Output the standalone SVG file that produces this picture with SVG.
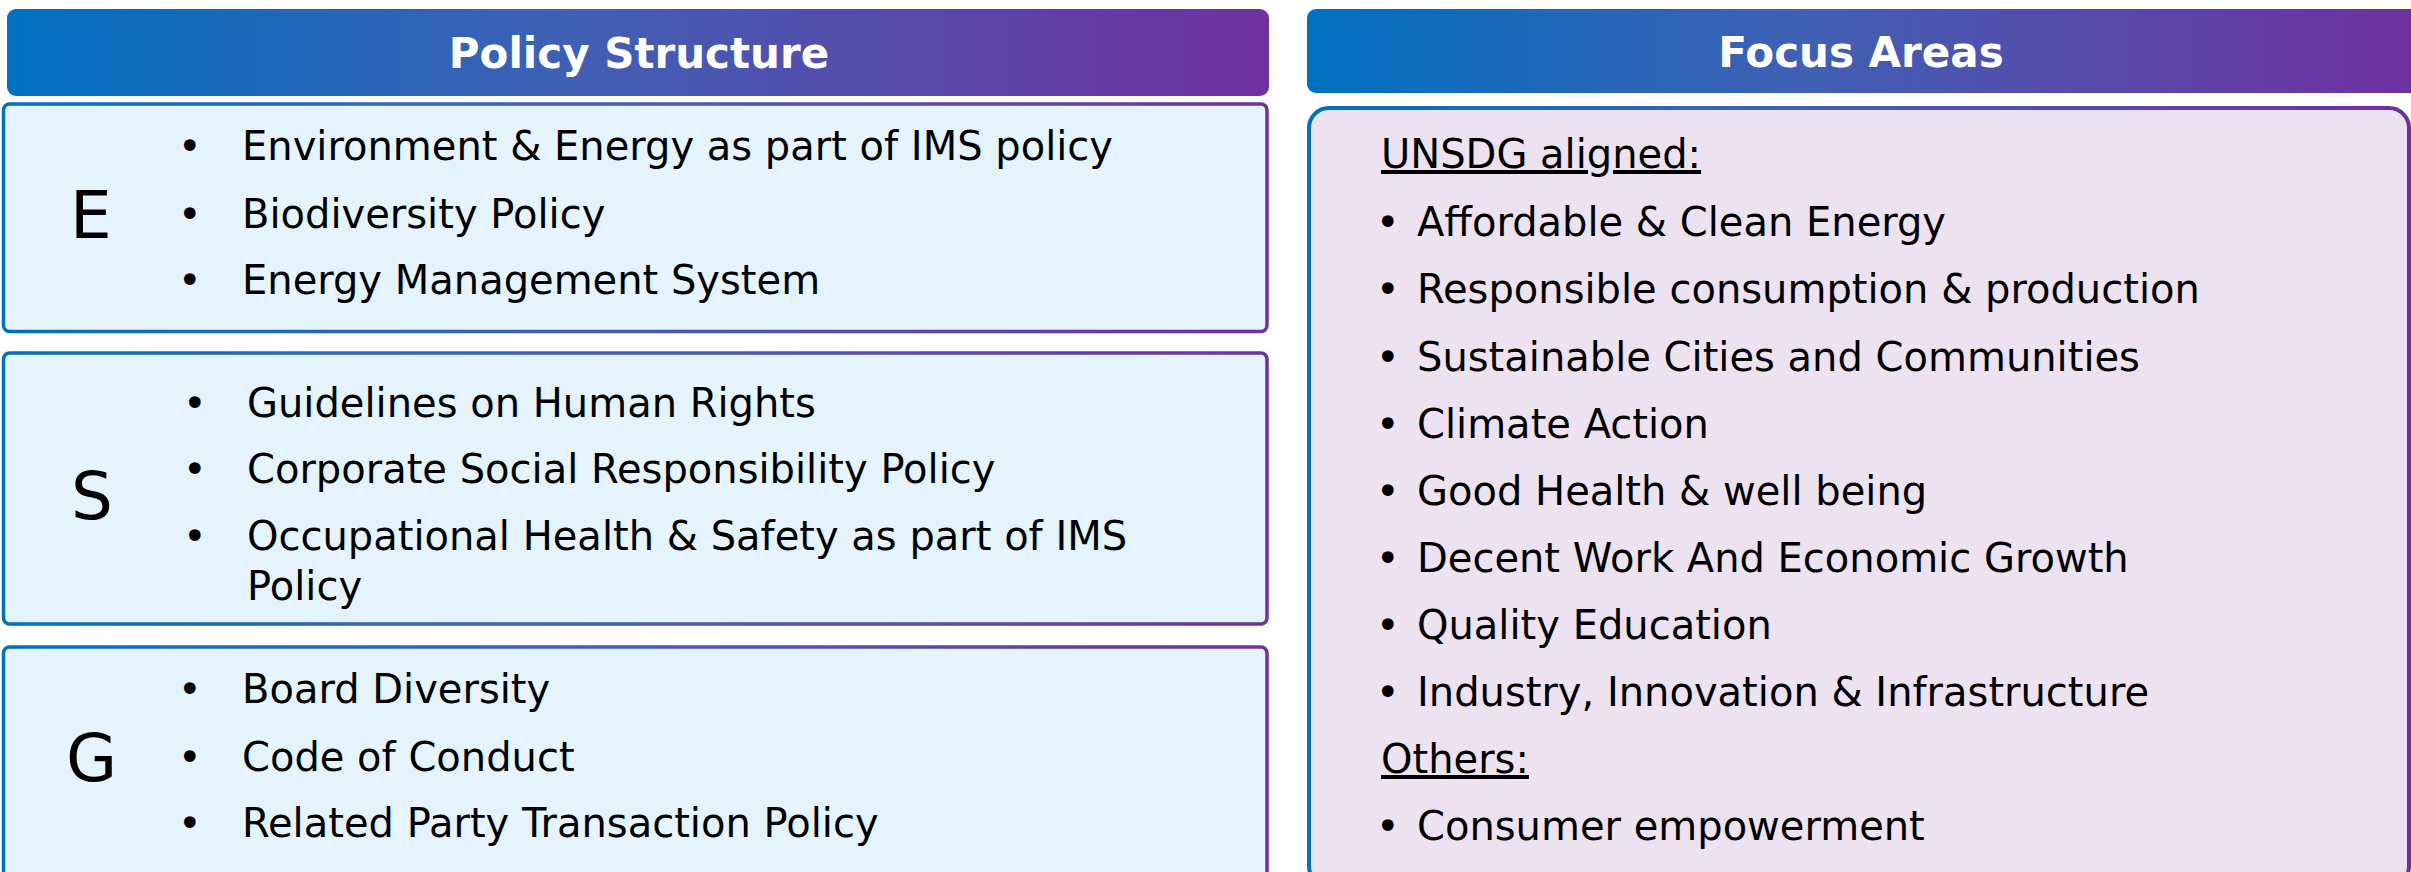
<svg xmlns="http://www.w3.org/2000/svg" width="2411" height="872" viewBox="0 0 2411 872">
<defs>
<linearGradient id="bp" x1="0" y1="0" x2="1" y2="0">
<stop offset="0" stop-color="#0070C0"/>
<stop offset="0.45" stop-color="#4060B4"/>
<stop offset="1" stop-color="#7030A0"/>
</linearGradient>
<style>
.hdr{fill:url(#bp)}
.ttl{font-family:"DejaVu Sans",sans-serif;font-weight:bold;font-size:42px;fill:#fff;text-anchor:middle}
.lbox{fill:#E5F3FD;stroke:url(#bp);stroke-width:3.5}
.rbox{fill:#EDE2F0;stroke:url(#bp);stroke-width:4}
.t{font-family:"DejaVu Sans",sans-serif;font-size:40px;fill:#000}
.big{font-family:"DejaVu Sans",sans-serif;font-size:66px;fill:#000}
</style>
</defs>
<rect width="2411" height="872" fill="#fff"/>
<g id="policy-header">
<rect class="hdr" x="7" y="9" width="1262" height="87" rx="9"/>
<text class="ttl" x="639" y="68">Policy Structure</text>
</g>
<g id="focus-header">
<rect class="hdr" x="1307" y="9" width="1112" height="84" rx="9"/>
<text class="ttl" x="1861" y="67">Focus Areas</text>
</g>
<g id="box-e">
<rect class="lbox" x="3.5" y="104" width="1263.5" height="227.5" rx="6"/>
<text class="big" x="70" y="238">E</text>
<text class="t" x="178" y="160">•</text><text class="t" x="242" y="160">Environment &amp; Energy as part of IMS policy</text>
<text class="t" x="178" y="228">•</text><text class="t" x="242" y="228">Biodiversity Policy</text>
<text class="t" x="178" y="294">•</text><text class="t" x="242" y="294">Energy Management System</text>
</g>
<g id="box-s">
<rect class="lbox" x="3.5" y="353" width="1263.5" height="271" rx="6"/>
<text class="big" x="71" y="519">S</text>
<text class="t" x="183" y="417">•</text><text class="t" x="247" y="417">Guidelines on Human Rights</text>
<text class="t" x="183" y="483">•</text><text class="t" x="247" y="483">Corporate Social Responsibility Policy</text>
<text class="t" x="183" y="550">•</text><text class="t" x="247" y="550">Occupational Health &amp; Safety as part of IMS</text>
<text class="t" x="247" y="600">Policy</text>
</g>
<g id="box-g">
<rect class="lbox" x="3.5" y="647" width="1263.5" height="260" rx="6"/>
<text class="big" x="66" y="781">G</text>
<text class="t" x="178" y="703">•</text><text class="t" x="242" y="703">Board Diversity</text>
<text class="t" x="178" y="771">•</text><text class="t" x="242" y="771">Code of Conduct</text>
<text class="t" x="178" y="837">•</text><text class="t" x="242" y="837">Related Party Transaction Policy</text>
</g>
<g id="focus-box">
<rect class="rbox" x="1309" y="108" width="1100" height="778" rx="20"/>
<text class="t" x="1381" y="168" text-decoration="underline">UNSDG aligned:</text>
<text class="t" x="1376" y="236">•</text><text class="t" x="1417" y="236">Affordable &amp; Clean Energy</text>
<text class="t" x="1376" y="303">•</text><text class="t" x="1417" y="303">Responsible consumption &amp; production</text>
<text class="t" x="1376" y="371">•</text><text class="t" x="1417" y="371">Sustainable Cities and Communities</text>
<text class="t" x="1376" y="438">•</text><text class="t" x="1417" y="438">Climate Action</text>
<text class="t" x="1376" y="505">•</text><text class="t" x="1417" y="505">Good Health &amp; well being</text>
<text class="t" x="1376" y="572">•</text><text class="t" x="1417" y="572">Decent Work And Economic Growth</text>
<text class="t" x="1376" y="639">•</text><text class="t" x="1417" y="639">Quality Education</text>
<text class="t" x="1376" y="706">•</text><text class="t" x="1417" y="706">Industry, Innovation &amp; Infrastructure</text>
<text class="t" x="1381" y="773" text-decoration="underline">Others:</text>
<text class="t" x="1376" y="840">•</text><text class="t" x="1417" y="840">Consumer empowerment</text>
</g>
<g id="connectors"/>
</svg>
